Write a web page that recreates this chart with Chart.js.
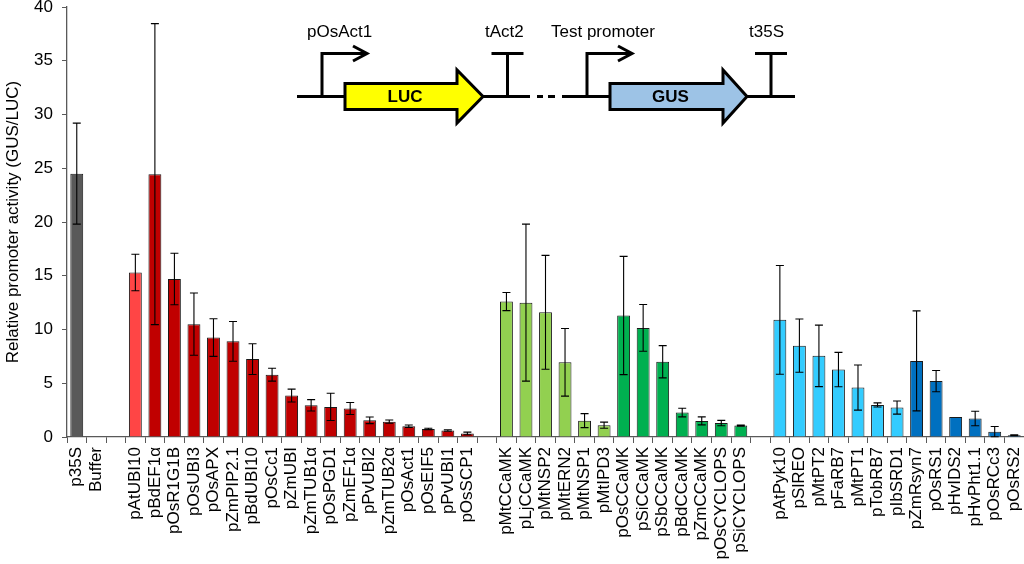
<!DOCTYPE html>
<html>
<head>
<meta charset="utf-8">
<script src="https://cdn.jsdelivr.net/npm/chart.js@4"></script>
<style>
  html, body { margin: 0; padding: 0; background: #fff; overflow: hidden; }
  canvas { display: block; }
</style>
</head>
<body>
<canvas id="c" width="1024" height="564"></canvas>
<script>
// ---- Data ----
const categories = ['p35S','Buffer','',
  'pAtUBI10','pBdEF1α','pOsR1G1B','pOsUBI3','pOsAPX','pZmPIP2.1','pBdUBI10','pOsCc1','pZmUBI','pZmTUB1α','pOsPGD1','pZmEF1α','pPvUBI2','pZmTUB2α','pOsAct1','pOsEIF5','pPvUBI1','pOsSCP1','',
  'pMtCCaMK','pLjCCaMK','pMtNSP2','pMtERN2','pMtNSP1','pMtIPD3','pOsCCaMK','pSiCCaMK','pSbCCaMK','pBdCCaMK','pZmCCaMK','pOsCYCLOPS','pSiCYCLOPS','',
  'pAtPyk10','pSlREO','pMtPT2','pFaRB7','pMtPT1','pTobRB7','pIbSRD1','pZmRsyn7','pOsRS1','pHvIDS2','pHvPht1.1','pOsRCc3','pOsRS2'];

const activity = [24.5, 0, null,
  15.3, 24.45, 14.7, 10.5, 9.25, 8.9, 7.25, 5.8, 3.85, 2.95, 2.8, 2.65, 1.55, 1.43, 1.0, 0.75, 0.6, 0.33, null,
  12.6, 12.5, 11.6, 6.95, 1.52, 1.1, 11.3, 10.15, 7.0, 2.27, 1.5, 1.3, 1.06, null,
  10.9, 8.5, 7.55, 6.27, 4.6, 2.98, 2.74, 7.08, 5.2, 1.86, 1.72, 0.5, 0.16];

const errors = [4.7, 0, null,
  1.7, 14.0, 2.4, 2.9, 1.75, 1.85, 1.43, 0.6, 0.6, 0.53, 1.27, 0.56, 0.31, 0.15, 0.12, 0.07, 0.07, 0.12, null,
  0.84, 7.3, 5.3, 3.15, 0.65, 0.28, 5.5, 2.18, 1.5, 0.4, 0.37, 0.25, 0.05, null,
  5.06, 2.48, 2.86, 1.6, 2.1, 0.19, 0.61, 4.65, 0.99, 0.0, 0.68, 0.47, 0.04];

const groups = ['ctrl','ctrl','',
  'ref','ubi','ubi','ubi','ubi','ubi','ubi','ubi','ubi','ubi','ubi','ubi','ubi','ubi','ubi','ubi','ubi','ubi','',
  'symL','symL','symL','symL','symL','symL','symD','symD','symD','symD','symD','symD','symD','',
  'rootL','rootL','rootL','rootL','rootL','rootL','rootL','rootD','rootD','rootD','rootD','rootD','rootD'];

const yTicks = [0, 5, 10, 15, 20, 25, 30, 35, 40];

// ---- Styles ----
const groupColors = {
  ctrl: '#595959', ref: '#FF4545', ubi: '#C00000',
  symL: '#92D050', symD: '#00B050', rootL: '#33CCFF', rootD: '#0070C0', '': '#ffffff'
};
const FONT = "'Liberation Sans', Arial, sans-serif";

const errorBars = {
  id: 'errorBars',
  afterDatasetsDraw(chart) {
    const ctx = chart.ctx;
    const meta = chart.getDatasetMeta(0);
    const ys = chart.scales.y;
    ctx.save();
    ctx.strokeStyle = '#000';
    ctx.lineWidth = 1.1;
    meta.data.forEach((bar, i) => {
      const v = activity[i], e = errors[i];
      if (v === null || !e) return;
      const x = bar.x;
      const yt = ys.getPixelForValue(v + e);
      const yb = ys.getPixelForValue(Math.max(0, v - e));
      const cap = 4;
      ctx.beginPath();
      ctx.moveTo(x, yt); ctx.lineTo(x, yb);
      ctx.moveTo(x - cap, yt); ctx.lineTo(x + cap, yt);
      ctx.moveTo(x - cap, yb); ctx.lineTo(x + cap, yb);
      ctx.stroke();
    });
    ctx.restore();
  }
};

const construct = {
  id: 'construct',
  afterDraw(chart) {
    const ctx = chart.ctx;
    const base = 96.5;
    ctx.save();
    ctx.strokeStyle = '#000';
    ctx.lineWidth = 3;
    ctx.lineCap = 'butt';
    ctx.beginPath();
    ctx.moveTo(297, base); ctx.lineTo(530, base);
    ctx.moveTo(537, base); ctx.lineTo(543, base);
    ctx.moveTo(548, base); ctx.lineTo(555, base);
    ctx.moveTo(562, base); ctx.lineTo(795, base);
    ctx.stroke();
    function promoter(x, xEnd) {
      ctx.beginPath();
      ctx.moveTo(x, base); ctx.lineTo(x, 53.5); ctx.lineTo(xEnd, 53.5);
      ctx.stroke();
      ctx.beginPath();
      ctx.moveTo(xEnd - 14, 46); ctx.lineTo(xEnd, 53.5); ctx.lineTo(xEnd - 14, 61);
      ctx.stroke();
    }
    promoter(322, 367);
    promoter(587, 632);
    function term(x) {
      ctx.beginPath();
      ctx.moveTo(x, base); ctx.lineTo(x, 53.5);
      ctx.moveTo(x - 16, 53.5); ctx.lineTo(x + 16, 53.5);
      ctx.stroke();
    }
    term(507.5);
    term(771);
    function gene(x0, xh, xt, fill, label) {
      ctx.beginPath();
      ctx.moveTo(x0, 83.5); ctx.lineTo(xh, 83.5); ctx.lineTo(xh, 70);
      ctx.lineTo(xt, base); ctx.lineTo(xh, 123); ctx.lineTo(xh, 109.5);
      ctx.lineTo(x0, 109.5); ctx.closePath();
      ctx.fillStyle = fill; ctx.fill();
      ctx.lineJoin = 'miter';
      ctx.stroke();
      ctx.fillStyle = '#000';
      ctx.font = 'bold 17px ' + FONT;
      ctx.textAlign = 'center'; ctx.textBaseline = 'middle';
      ctx.fillText(label, (x0 + xh) / 2 + 4, base + 1);
    }
    gene(345, 457, 483, '#FFFF00', 'LUC');
    gene(610, 723, 747, '#9DC3E6', 'GUS');
    ctx.font = '17px ' + FONT;
    ctx.fillStyle = '#000';
    ctx.textAlign = 'left'; ctx.textBaseline = 'middle';
    ctx.fillText('pOsAct1', 307, 32);
    ctx.fillText('tAct2', 485, 32);
    ctx.fillText('Test promoter', 551, 32);
    ctx.fillText('t35S', 749, 32);
    ctx.restore();
  }
};

new Chart(document.getElementById('c'), {
  type: 'bar',
  data: {
    labels: categories,
    datasets: [{
      data: activity,
      backgroundColor: groups.map(g => groupColors[g]),
      borderColor: '#1a1a1a',
      borderWidth: 1,
      borderSkipped: 'start',
      categoryPercentage: 1.0,
      barPercentage: 0.66
    }]
  },
  options: {
    responsive: false,
    animation: false,
    devicePixelRatio: 1,
    layout: { padding: { top: 7, right: 0, left: 0, bottom: 0 } },
    plugins: { legend: { display: false }, tooltip: { enabled: false } },
    scales: {
      x: {
        offset: true,
        grid: { offset: true, drawOnChartArea: false, tickLength: 6, color: '#595959', tickColor: '#595959' },
        border: { color: '#595959', width: 1.3 },
        ticks: { autoSkip: false, minRotation: 90, maxRotation: 90, padding: 4, color: '#000', font: { family: FONT, size: 17 } },
        afterFit(s) { s.height = 127; s.paddingLeft = 0; s.paddingRight = 0; }
      },
      y: {
        min: 0, max: 40,
        afterBuildTicks(s) { s.ticks = yTicks.map(v => ({ value: v })); },
        grid: { drawOnChartArea: false, tickLength: 5, color: '#595959', tickColor: '#595959' },
        border: { color: '#595959', width: 1.3 },
        ticks: { padding: 9, color: '#000', font: { family: FONT, size: 17 } },
        title: { display: true, text: 'Relative promoter activity (GUS/LUC)', color: '#000', font: { family: FONT, size: 17 }, padding: { top: 3, bottom: 0 } },
        afterFit(s) { s.width = 67; s.paddingTop = 0; s.paddingBottom = 0; }
      }
    }
  },
  plugins: [errorBars, construct]
});
</script>
</body>
</html>
